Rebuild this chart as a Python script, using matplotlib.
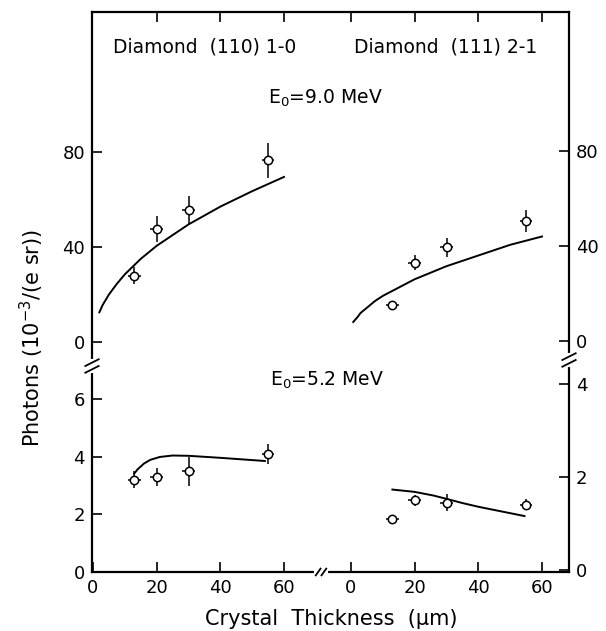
import numpy as np
import matplotlib.pyplot as plt

# thickness of the measured crystals (um)
thick = [13, 20, 30, 55]

# Diamond (110) 1-0, E0 = 9.0 MeV
n_110_hi = [28, 47.5, 55.5, 76.5]
err_110_hi = [3.5, 5.5, 6, 7.5]
fit_t_110_hi = [2, 3, 5, 7.5, 10, 15, 20, 30, 40, 50, 60]
fit_110_hi = [12.5, 15.5, 20, 24.5, 28.5, 35, 40.5, 49.5, 57, 63.5, 69.5]

# Diamond (110) 1-0, E0 = 5.2 MeV
n_110_lo = [3.2, 3.3, 3.5, 4.1]
err_110_lo = [0.3, 0.3, 0.5, 0.35]
fit_t_110_lo = [13, 14, 16, 18, 21, 25, 30, 40, 54]
fit_110_lo = [3.42, 3.56, 3.76, 3.89, 3.99, 4.04, 4.03, 3.96, 3.85]

# Diamond (111) 2-1, E0 = 9.0 MeV
n_111_hi = [15, 33, 39.5, 50.5]
err_111_hi = [2, 3.3, 4, 4.6]
fit_t_111_hi = [0.7, 2, 3, 5, 7.5, 10, 15, 20, 30, 40, 50, 60]
fit_111_hi = [8, 10, 11.8, 14, 16.8, 19, 22.5, 26, 31.5, 36, 40.5, 44]

# Diamond (111) 2-1, E0 = 5.2 MeV
n_111_lo = [1.1, 1.5, 1.45, 1.4]
err_111_lo = [0.05, 0.12, 0.18, 0.12]
fit_t_111_lo = [13, 20, 26, 30, 35, 40, 54.5]
fit_111_lo = [1.73, 1.68, 1.6, 1.53, 1.44, 1.36, 1.16]

W, H = 606, 631
fig = plt.figure(figsize=(W / 100, H / 100), dpi=100)

# frame in pixels
L, R, T, B = 92, 569, 12, 572
box = [L / W, (H - B) / H, (R - L) / W, (B - T) / H]

# pixel geometry of the scales
sx = (284 - 93) / 60.0
x0_left, x0_right = 93, 351
s_hi = 95 / 40.0
y0_hi = 342
s_lo_left = (572 - 399) / 6.0
s_lo_right = (570 - 384) / 4.0


def make_ax(x0, y0, sy):
    ax = fig.add_axes(box)
    ax.set_xlim((L - x0) / sx, (R - x0) / sx)
    ax.set_ylim((y0 - B) / sy, (y0 - T) / sy)
    ax.patch.set_alpha(0)
    for sp in ax.spines.values():
        sp.set_visible(False)
    ax.set_xticks([])
    ax.set_yticks([])
    return ax


ax_ll = make_ax(x0_left, 572, s_lo_left)
ax_lh = make_ax(x0_left, y0_hi, s_hi)
ax_rl = make_ax(x0_right, 570, s_lo_right)
ax_rh = make_ax(x0_right, 341, s_hi)

# frame
for sp in ax_ll.spines.values():
    sp.set_visible(True)
    sp.set_linewidth(1.6)

tick_kw = dict(direction='in', length=7, width=1.2, labelsize=13, pad=5)

ax_ll.set_xticks([0, 20, 40, 60])
ax_ll.set_yticks([0, 2, 4, 6])
ax_ll.tick_params(axis='both', **tick_kw)

ax_lh.set_yticks([0, 40, 80])
ax_lh.tick_params(axis='y', **tick_kw)
ax_lh.set_xticks([20, 40, 60])
ax_lh.tick_params(axis='x', top=True, bottom=False, labeltop=False,
                  labelbottom=False, direction='in', length=7, width=1.2)

ax_rl.set_xticks([0, 20, 40, 60])
ax_rl.tick_params(axis='x', **tick_kw)
ax_rl.set_yticks([0, 2, 4])
ax_rl.tick_params(axis='y', left=False, labelleft=False, right=True,
                  labelright=True, **tick_kw)

ax_rh.set_yticks([0, 40, 80])
ax_rh.tick_params(axis='y', left=False, labelleft=False, right=True,
                  labelright=True, **tick_kw)
ax_rh.set_xticks([0, 20, 40, 60])
ax_rh.tick_params(axis='x', top=True, bottom=False, labeltop=False,
                  labelbottom=False, direction='in', length=7, width=1.2)

# data
eb_kw = dict(xerr=2, fmt='o', ms=6, mfc='white', mec='black', mew=1.1,
             ecolor='black', elinewidth=1.1, capsize=0, zorder=3)
line_kw = dict(color='black', lw=1.4, zorder=2)

ax_lh.plot(fit_t_110_hi, fit_110_hi, **line_kw)
ax_lh.errorbar(thick, n_110_hi, yerr=err_110_hi, **eb_kw)
ax_ll.plot(fit_t_110_lo, fit_110_lo, **line_kw)
ax_ll.errorbar(thick, n_110_lo, yerr=err_110_lo, **eb_kw)
ax_rh.plot(fit_t_111_hi, fit_111_hi, **line_kw)
ax_rh.errorbar(thick, n_111_hi, yerr=err_111_hi, **eb_kw)
ax_rl.plot(fit_t_111_lo, fit_111_lo, **line_kw)
ax_rl.errorbar(thick, n_111_lo, yerr=err_111_lo, **eb_kw)

# axis breaks
tr = ax_ll.transAxes
for yb, xs in [((B - 366) / (B - T), 0.0), ((B - 360) / (B - T), 1.0)]:
    ax_ll.plot([xs, xs], [yb - 0.009, yb + 0.009], color='white', lw=3,
               transform=tr, clip_on=False, zorder=5)
    for d in (-0.006, 0.006):
        ax_ll.plot([xs - 0.014, xs + 0.014], [yb + d - 0.006, yb + d + 0.006],
                   color='black', lw=1.3, transform=tr, clip_on=False, zorder=6)
xb = (321 - L) / (R - L)
ax_ll.plot([xb - 0.01, xb + 0.01], [0, 0], color='white', lw=3,
           transform=tr, clip_on=False, zorder=5)
for d in (-0.006, 0.006):
    ax_ll.plot([xb + d - 0.005, xb + d + 0.005], [-0.006, 0.006],
               color='black', lw=1.3, transform=tr, clip_on=False, zorder=6)

# labels
fig.text(113 / W, 1 - 47 / H, 'Diamond  (110) 1-0', fontsize=13.5,
         ha='left', va='center')
fig.text(354 / W, 1 - 47 / H, 'Diamond  (111) 2-1', fontsize=13.5,
         ha='left', va='center')
fig.text(268 / W, 1 - 98 / H, r'E$_0$=9.0 MeV', fontsize=13.5,
         ha='left', va='center')
fig.text(270 / W, 1 - 380 / H, r'E$_0$=5.2 MeV', fontsize=13.5,
         ha='left', va='center')
fig.text(331 / W, 1 - 619 / H, 'Crystal  Thickness  (μm)', fontsize=15,
         ha='center', va='center')
fig.text(32 / W, 1 - 338 / H, r'Photons (10$^{-3}$/(e sr))', fontsize=15,
         ha='center', va='center', rotation=90)

fig.savefig('out.png', dpi=100, facecolor='white')
